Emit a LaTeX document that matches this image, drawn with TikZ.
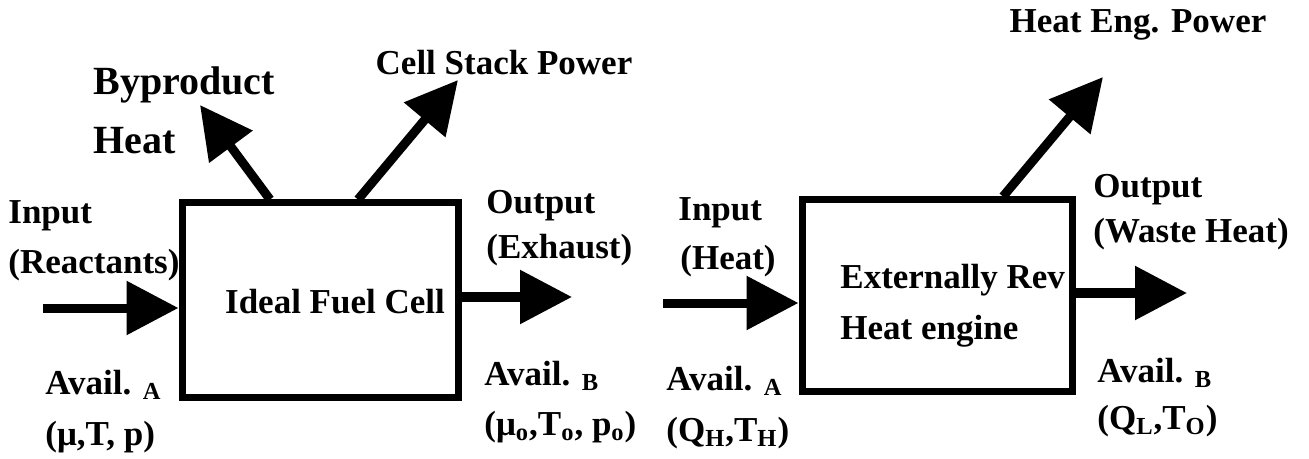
\documentclass[tikz,border=0pt]{standalone}
\usepackage{fontspec}
\setmainfont{Liberation Serif}
\usetikzlibrary{arrows.meta}

\begin{document}
\begin{tikzpicture}[x=0.5pt,y=-0.5pt,>={Triangle[length=26pt,width=26pt]},
  blk/.style={draw,line width=3.5pt,inner sep=0pt},
  flow/.style={->,line width=4.5pt},
  lbl/.style={anchor=west,inner sep=0pt},
  font=\bfseries\fontsize{17.5}{21}\selectfont]
  \useasboundingbox (0,0) rectangle (1309,459);
  % fuel cell
  \node[blk,minimum width=138pt,minimum height=97pt] (fc) at (320,300) {};
  \node[inner sep=0pt] (fct) at (335,302) {Ideal Fuel Cell};
  \coordinate (fcin) at (43,308);
  \coordinate (fcout) at (572,297);
  \coordinate (bph) at (200,105);
  \coordinate (csp) at (458,80);
  \draw[flow] (fcin) -- (fcin -| fc.west);
  \draw[flow] (fcout -| fc.east) -- (fcout);
  \draw[flow] ([xshift=-25pt]fc.north) -- (bph);
  \draw[flow] ([xshift=19pt]fc.north) -- (csp);
  \node[lbl,font=\bfseries\fontsize{20}{24}\selectfont] (bp1) at (93,85) {Byproduct};
  \node[lbl,font=\bfseries\fontsize{20}{24}\selectfont] (bp2) at (93,141) {Heat};
  \node[inner sep=0pt] (cspl) at (504,63) {Cell Stack Power};
  \node[lbl] (in1) at (8,216) {Input};
  \node[lbl] (in2) at (8,265) {(Reactants)};
  \node[lbl] (avA) at (45,385) {Avail. \textsubscript{A}};
  \node[lbl] (stA) at (45,437) {(μ,T, p)};
  \node[lbl] (out1) at (486,206) {Output};
  \node[lbl] (out2) at (486,250) {(Exhaust)};
  \node[lbl] (avB) at (484,376) {Avail. \textsubscript{B}};
  \node[lbl] (stB) at (484,427) {(μ\textsubscript{o},T\textsubscript{o}, p\textsubscript{o})};
  % heat engine
  \node[blk,minimum width=135pt,minimum height=95.5pt] (he) at (937,295.5) {};
  \node[lbl] (het1) at (840,280) {Externally Rev};
  \node[lbl] (het2) at (840,331) {Heat engine};
  \coordinate (hein) at (663,303);
  \coordinate (heout) at (1187,293);
  \coordinate (hep) at (1103,77);
  \draw[flow] (hein) -- (hein -| he.west);
  \draw[flow] (heout -| he.east) -- (heout);
  \draw[flow] ([xshift=33pt]he.north) -- (hep);
  \node[inner sep=0pt] (hepl) at (1138,25) {Heat Eng. Power};
  \node[lbl] (hin1) at (678,213) {Input};
  \node[lbl] (hin2) at (680,261) {(Heat)};
  \node[lbl] (havA) at (666,381) {Avail. \textsubscript{A}};
  \node[lbl] (hstA) at (666,433) {(Q\textsubscript{H},T\textsubscript{H})};
  \node[lbl] (hout1) at (1093,190) {Output};
  \node[lbl] (hout2) at (1093,234) {(Waste Heat)};
  \node[lbl] (havB) at (1097,373) {Avail. \textsubscript{B}};
  \node[lbl] (hstB) at (1097,421) {(Q\textsubscript{L},T\textsubscript{O})};
\end{tikzpicture}
\end{document}
